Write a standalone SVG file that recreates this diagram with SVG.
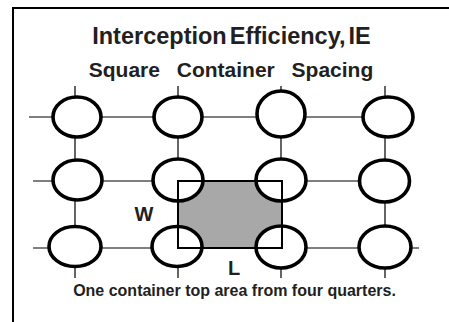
<svg xmlns="http://www.w3.org/2000/svg" width="449" height="322" viewBox="0 0 449 322">
<style>
.t{font-family:"Liberation Sans",Arial,sans-serif;font-weight:bold;fill:#231f20;text-anchor:middle}
.c{fill:#fff;stroke:#000;stroke-width:3.6}
.ln{stroke:#000;stroke-width:1.2;fill:none}
</style>
<rect width="449" height="322" fill="#fff"/>
<path d="M12 8H449M13 7V322" stroke="#000" stroke-width="2" fill="none"/>
<text class="t" x="231.5" y="43.5" font-size="23.5" word-spacing="-3.5">Interception Efficiency, IE</text>
<text class="t" x="231" y="77" font-size="21" word-spacing="11">Square Container Spacing</text>
<g id="connectors" class="ln">
<path d="M29 117H388M33 181H384M33 248H419"/>
<path d="M75 86V278M178 86V278M281 86V278M385 86V278"/>
</g>
<rect x="178" y="181" width="104" height="67" fill="#a8a8a8"/>
<g id="n11"><ellipse class="c" cx="77" cy="117" rx="24" ry="20"/></g>
<g id="n12"><ellipse class="c" cx="178" cy="117" rx="24" ry="20"/></g>
<g id="n13"><ellipse class="c" cx="281" cy="114" rx="24" ry="23"/></g>
<g id="n14"><ellipse class="c" cx="388" cy="117" rx="25" ry="20"/></g>
<g id="n21"><ellipse class="c" cx="77.5" cy="180" rx="24.5" ry="20"/></g>
<g id="n22"><ellipse class="c" cx="178" cy="180" rx="25" ry="21"/></g>
<g id="n23"><ellipse class="c" cx="281" cy="180" rx="25" ry="21"/></g>
<g id="n24"><ellipse class="c" cx="384.5" cy="181" rx="25" ry="21"/></g>
<g id="n31"><ellipse class="c" cx="75" cy="246.5" rx="26" ry="20"/></g>
<g id="n32"><ellipse class="c" cx="177" cy="246.5" rx="25" ry="20"/></g>
<g id="n33"><ellipse class="c" cx="281" cy="247" rx="25" ry="21"/></g>
<g id="n34"><ellipse class="c" cx="385" cy="247" rx="26" ry="21"/></g>
<rect x="178" y="181" width="104" height="67" fill="none" stroke="#000" stroke-width="2"/>
<text class="t" x="144" y="221" font-size="20">W</text>
<text class="t" x="234" y="275" font-size="20">L</text>
<text class="t" x="234.5" y="296" font-size="16">One container top area from four quarters.</text>
</svg>
